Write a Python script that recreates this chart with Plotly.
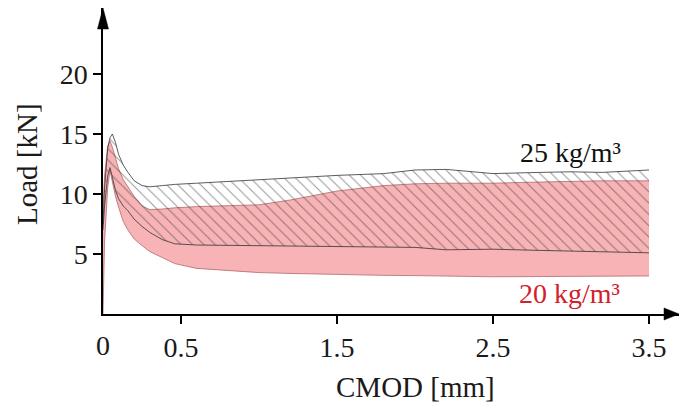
import plotly.graph_objects as go

# CMOD grid [mm]
cmod = [0, 0.01, 0.03, 0.045, 0.06, 0.08, 0.1, 0.13, 0.16, 0.2, 0.25, 0.3, 0.38, 0.46,
        0.6, 0.8, 1.0, 1.2, 1.5, 1.8, 2.0, 2.2, 2.5, 2.8, 3.0, 3.2, 3.5]

# 25 kg/m3 envelope (hatched)
load25_upper = [7.5, 10.5, 13.8, 14.7, 15.0, 14.3, 13.3, 12.4, 11.8, 11.1, 10.7, 10.6, 10.7, 10.8,
                10.9, 11.05, 11.15, 11.35, 11.55, 11.7, 12.0, 12.05, 11.7, 11.8, 11.85, 11.8, 12.0]
load25_lower = [7.0, 9.0, 11.5, 12.2, 11.4, 10.3, 9.6, 9.0, 8.6, 7.9, 7.3, 6.8, 6.2, 5.85,
                5.75, 5.72, 5.7, 5.65, 5.62, 5.6, 5.55, 5.35, 5.4, 5.3, 5.25, 5.15, 5.1]

# 20 kg/m3 envelope (pink)
load20_upper = [9.0, 11.5, 14.0, 14.4, 13.9, 13.0, 12.1, 11.2, 10.6, 9.8, 9.0, 8.7, 8.75, 8.85,
                8.95, 9.0, 9.1, 9.5, 10.25, 10.7, 10.85, 10.9, 10.9, 11.0, 11.05, 11.1, 11.1]
load20_lower = [0.0, 6.0, 10.5, 12.0, 11.0, 9.8, 8.9, 7.7, 7.0, 6.25, 5.7, 5.2, 4.7, 4.2,
                3.8, 3.6, 3.45, 3.38, 3.27, 3.22, 3.2, 3.15, 3.1, 3.12, 3.15, 3.15, 3.17]

x_tick_vals = [0.5, 1.5, 2.5, 3.5]
x_tick_text = ["0.5", "1.5", "2.5", "3.5"]
y_tick_vals = [5, 10, 15, 20]
y_tick_text = ["5", "10", "15", "20"]

FONT = "'Liberation Serif', 'Times New Roman', Times, 'DejaVu Serif', serif"
PINK = "#f7b3b5"
TXT = "#1a1a1a"

fig = go.Figure()
fig.add_trace(go.Scatter(x=cmod, y=load20_lower, mode="lines",
                         line=dict(color="#a85a5c", width=0.7), showlegend=False))
fig.add_trace(go.Scatter(x=cmod, y=load20_upper, mode="lines", fill="tonexty",
                         fillcolor=PINK, line=dict(color="#a85a5c", width=0.7), showlegend=False))
fig.add_trace(go.Scatter(x=cmod, y=load25_lower, mode="lines",
                         line=dict(color="#333333", width=0.8), showlegend=False))
fig.add_trace(go.Scatter(x=cmod, y=load25_upper, mode="lines", fill="tonexty",
                         fillcolor="rgba(0,0,0,0)",
                         fillpattern=dict(shape="\\", fgcolor="#333333", bgcolor="rgba(0,0,0,0)",
                                          size=8, solidity=0.13),
                         line=dict(color="#333333", width=0.8), showlegend=False))

W, H = 679, 407
L, R, T, B = 103, 0, 8, 93
pw, ph = W - L - R, H - T - B

fig.update_layout(
    width=W, height=H,
    margin=dict(l=L, r=R, t=T, b=B),
    paper_bgcolor="white", plot_bgcolor="white",
    font=dict(family=FONT, size=28, color=TXT),
    xaxis=dict(range=[0, pw / 156.0], showgrid=False, zeroline=False,
               showline=True, linecolor="black", linewidth=1.5,
               ticks="outside", ticklen=8, tickwidth=1.5, tickcolor="black",
               tickvals=x_tick_vals, ticktext=x_tick_text,
               tickfont=dict(family=FONT, size=28, color=TXT)),
    yaxis=dict(range=[0, ph / 12.0], showgrid=False, zeroline=False,
               showline=True, linecolor="black", linewidth=1.5,
               ticks="outside", ticklen=8, tickwidth=1.5, tickcolor="black",
               tickvals=y_tick_vals, ticktext=y_tick_text,
               tickfont=dict(family=FONT, size=28, color=TXT)),
    showlegend=False,
)

def px_x(p):
    return (p - L) / pw

def px_y(p):
    return (T + ph - p) / ph

# arrowheads
fig.add_shape(type="path", xref="paper", yref="paper",
              path=f"M {px_x(103)},{px_y(8)} L {px_x(97.5)},{px_y(29)} L {px_x(108.5)},{px_y(29)} Z",
              fillcolor="black", line=dict(color="black", width=0.5))
fig.add_shape(type="path", xref="paper", yref="paper",
              path=f"M {px_x(679)},{px_y(314)} L {px_x(664)},{px_y(308)} L {px_x(664)},{px_y(320)} Z",
              fillcolor="black", line=dict(color="black", width=0.5))

# "0" tick label
fig.add_annotation(x=0, y=px_y(345), xref="x", yref="paper", text="0", showarrow=False,
                   xanchor="center", yanchor="middle",
                   font=dict(family=FONT, size=28, color=TXT))

# axis titles
fig.add_annotation(x=px_x(27), y=px_y(164), xref="paper", yref="paper", text="Load [kN]",
                   textangle=-90, showarrow=False, xanchor="center", yanchor="middle",
                   font=dict(family=FONT, size=29, color=TXT))
fig.add_annotation(x=px_x(415), y=px_y(387), xref="paper", yref="paper", text="CMOD [mm]",
                   showarrow=False, xanchor="center", yanchor="middle",
                   font=dict(family=FONT, size=29, color=TXT))

# series labels
fig.add_annotation(x=px_x(570), y=px_y(152), xref="paper", yref="paper", text="25 kg/m³",
                   showarrow=False, xanchor="center", yanchor="middle",
                   font=dict(family=FONT, size=28, color="#111111"))
fig.add_annotation(x=px_x(569), y=px_y(293), xref="paper", yref="paper", text="20 kg/m³",
                   showarrow=False, xanchor="center", yanchor="middle",
                   font=dict(family=FONT, size=28, color="#d4202a"))

fig.write_html("out.html", config={"displayModeBar": False},
               post_script="document.body.style.margin='0px';document.body.style.overflow='hidden';")
